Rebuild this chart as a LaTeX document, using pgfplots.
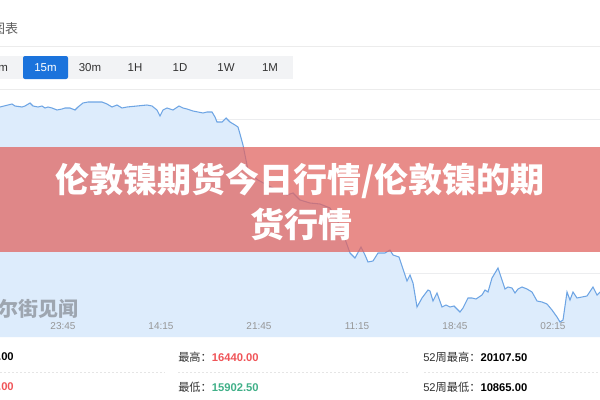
\documentclass[border=0pt]{standalone}
\usepackage{pgfplots}
\pgfplotsset{compat=1.18}
\usepackage{pgfplotstable}
\usepackage{fontspec}
\setmainfont{Liberation Sans}
\newfontfamily\cjk{Noto Sans CJK SC}

\definecolor{linebl}{RGB}{110,165,228}
\definecolor{fillbl}{RGB}{221,236,252}
\definecolor{gridc}{RGB}{236,237,239}
\definecolor{tickg}{RGB}{150,150,150}
\definecolor{sepg}{RGB}{236,236,236}
\definecolor{tabg}{RGB}{242,243,245}
\definecolor{tabbl}{RGB}{27,115,220}
\definecolor{darkt}{RGB}{51,51,51}
\definecolor{upred}{RGB}{240,84,88}
\definecolor{downgr}{RGB}{64,176,136}
\definecolor{banner}{RGB}{225,102,98}
\definecolor{wmark}{RGB}{158,166,176}

\pgfplotsset{
  chartbox/.style={
    at={(0pt,-252.75pt)}, anchor=south west,
    scale only axis, width=450pt, height=185.25pt,
    xmin=0, xmax=600, ymin=0, ymax=247,
    axis line style={draw=none}, major tick length=0pt,
  },
}

% 15m price curve, x = position along the time axis, h = height above the axis floor
\pgfplotstableread{
x h
0 230
8 232
12 233
15 231
22 230
25 231
30 234
33 231
38 230
42 231
45 229
48 230
52 229
57 227
62 228
65 229
70 229
75 227
78 230
83 234
88 235
98 235
102 235
107 233
112 230
117 232
122 229
127 230
137 231
147 232
152 231
157 227
160 221
163 227
167 229
170 228
173 227
179 231
183 229
187 228
193 226
198 225
203 224
207 225
212 225
215 220
217 215
222 215
226 219
230 215
235 212
238 210
240 203
243 192
245 182
248 167
253 161
258 157
267 152
277 147
287 142
293 144
300 137
310 134
320 133
330 129
338 115
345 98
350 84
355 79
361 90
365 82
368 75
373 76
378 84
385 84
390 87
393 82
399 80
407 56
410 62
413 54
417 30
422 39
428 47
430 46
433 36
437 44
442 30
446 32
450 30
454 31
460 25
463 29
468 39
472 39
476 38
482 42
485 47
488 45
492 59
495 64
498 69
505 48
508 50
512 49
515 44
518 48
522 50
527 48
532 45
537 36
542 35
547 33
552 27
557 20
560 15
563 17
567 45
570 37
573 45
577 39
582 40
587 41
593 50
597 42
600 45
}\nickel

\begin{document}
\begin{tikzpicture}[x=0.75pt,y=-0.75pt]
\path[use as bounding box] (0,0) rectangle (600,400);
\clip (0,0) rectangle (600,400);
\fill[white] (0,0) rectangle (600,400);

% header and period tabs
\node[anchor=east, inner sep=0, text=darkt!80, font=\cjk\fontsize{9.75}{11}\selectfont] at (18.5,29) {行情图表};
\draw[sepg, line width=0.75pt] (0,46) -- (600,46);
\fill[tabg] (0,56) rectangle (293,79);
\fill[tabbl, rounded corners=1.5pt] (23,56) rectangle (68,79);
\foreach \lab/\cx in {5m/0, 30m/90, 1H/135, 1D/180, 1W/226, 1M/270}
  \node[text=darkt, font=\fontsize{8.6}{10}\selectfont] at (\cx,67.5) {\lab};
\node[text=white, font=\fontsize{8.6}{10}\selectfont] at (45.5,67.5) {15m};
\draw[sepg, line width=0.75pt] (0,89.5) -- (600,89.5);

% area and grid (grid stays under the area)
\begin{axis}[chartbox,
  xtick=\empty,
  ytick={64,218}, yticklabels={},
  ymajorgrids, grid style={gridc, line width=0.75pt},
]
\addplot[draw=none, fill=fillbl] table[x=x, y=h] {\nickel} \closedcycle;
\end{axis}

% time labels and the price line
\begin{axis}[chartbox,
  ytick=\empty,
  xtick={63,161,259,357,455,553},
  xticklabels={23:45,14:15,21:45,11:15,18:45,02:15},
  xticklabel style={anchor=center, yshift=8.5pt, text=tickg, font=\fontsize{7.5}{9}\selectfont},
]
\addplot[linebl, line width=0.8pt, mark=none] table[x=x, y=h] {\nickel};
\end{axis}

% watermark
\node[anchor=east, inner sep=0, text=wmark, font=\cjk\bfseries\fontsize{15}{17}\selectfont] at (79,309) {华尔街见闻};

% quote rows
\node[anchor=east, inner sep=0, text=black, font=\bfseries\fontsize{8.4}{10}\selectfont] at (14,357) {16180.00};
\node[anchor=east, inner sep=0, text=upred, font=\bfseries\fontsize{8.4}{10}\selectfont] at (14,387) {16090.00};
\node[anchor=west, inner sep=0, font=\fontsize{8.4}{10}\selectfont] at (178,357)
  {\textcolor{darkt}{\cjk 最高：}\textcolor{upred}{\bfseries 16440.00}};
\node[anchor=west, inner sep=0, font=\fontsize{8.4}{10}\selectfont] at (178,387)
  {\textcolor{darkt}{\cjk 最低：}\textcolor{downgr}{\bfseries 15902.50}};
\node[anchor=west, inner sep=0, font=\fontsize{8.4}{10}\selectfont] at (423,357)
  {\textcolor{darkt}{52\cjk 周最高：}\textcolor{black}{\bfseries 20107.50}};
\node[anchor=west, inner sep=0, font=\fontsize{8.4}{10}\selectfont] at (423,387)
  {\textcolor{darkt}{52\cjk 周最低：}\textcolor{black}{\bfseries 10865.00}};
\draw[sepg!90!black!60, line width=0.5pt, dash pattern=on 1.5pt off 1.5pt]
  (0,372) -- (165,372) (178,372) -- (410,372) (424,372) -- (600,372);

% title banner
\fill[banner, opacity=0.75] (0,147) rectangle (600,252);
\node[text=white, font=\cjk\bfseries\fontsize{25.5}{28}\selectfont] at (300,181) {伦敦镍期货今日行情/伦敦镍的期};
\node[text=white, font=\cjk\bfseries\fontsize{25.5}{28}\selectfont] at (301,224) {货行情};
\end{tikzpicture}
\end{document}
